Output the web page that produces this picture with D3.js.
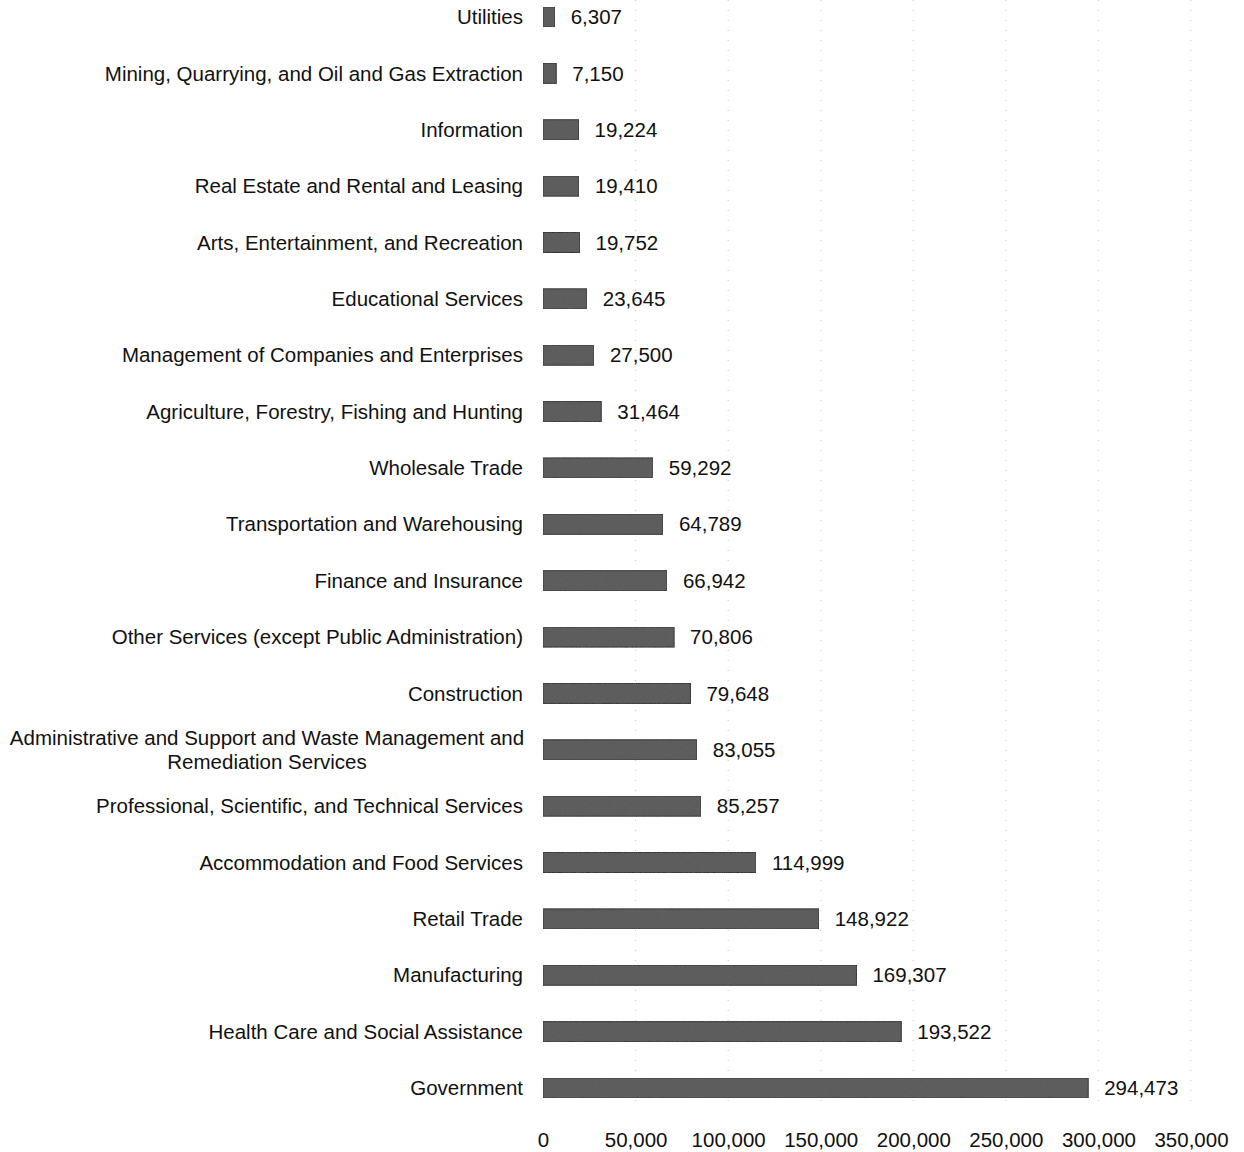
<!DOCTYPE html>
<html>
<head>
<meta charset="utf-8">
<script src="https://cdn.jsdelivr.net/npm/d3@7"></script>
<style>
  html, body { margin: 0; padding: 0; background: #fff; }
  svg { display: block; font-family: "Liberation Sans", Arial, sans-serif; }
</style>
</head>
<body>
<svg id="chart" width="1244" height="1152"></svg>
<script>
// Employment by industry
const industries = [
  "Utilities",
  "Mining, Quarrying, and Oil and Gas Extraction",
  "Information",
  "Real Estate and Rental and Leasing",
  "Arts, Entertainment, and Recreation",
  "Educational Services",
  "Management of Companies and Enterprises",
  "Agriculture, Forestry, Fishing and Hunting",
  "Wholesale Trade",
  "Transportation and Warehousing",
  "Finance and Insurance",
  "Other Services (except Public Administration)",
  "Construction",
  "Administrative and Support and Waste Management and|Remediation Services",
  "Professional, Scientific, and Technical Services",
  "Accommodation and Food Services",
  "Retail Trade",
  "Manufacturing",
  "Health Care and Social Assistance",
  "Government"
];
const employment = [
  6307, 7150, 19224, 19410, 19752, 23645, 27500, 31464, 59292, 64789,
  66942, 70806, 79648, 83055, 85257, 114999, 148922, 169307, 193522, 294473
];
const tickValues = [0, 50000, 100000, 150000, 200000, 250000, 300000, 350000];

const svg = d3.select("#chart");
const fmt = d3.format(",");
const fontSize = 20.5;

const x = d3.scaleLinear().domain([0, 350000]).range([543, 1191]);
const y = d3.scalePoint().domain(industries).range([17, 1088]);
const barH = 20;

// speckled texture for the bar fill
const defs = svg.append("defs");
const flt = defs.append("filter").attr("id", "grain")
  .attr("x", 0).attr("y", 0).attr("width", 1).attr("height", 1);
flt.append("feTurbulence").attr("type", "fractalNoise")
  .attr("baseFrequency", 1.2).attr("numOctaves", 1).attr("seed", 7).attr("result", "noise");
flt.append("feColorMatrix").attr("in", "noise").attr("type", "matrix")
  .attr("values", "0 0 0 0 0.1  0 0 0 0 0.1  0 0 0 0 0.1  2.2 0 0 0 -0.9").attr("result", "dots");
flt.append("feComposite").attr("in", "dots").attr("in2", "SourceGraphic")
  .attr("operator", "in").attr("result", "mixed");
flt.append("feMerge").call(m => {
  m.append("feMergeNode").attr("in", "SourceGraphic");
  m.append("feMergeNode").attr("in", "mixed");
});

// faint dotted gridlines
svg.append("g").selectAll("line")
  .data(tickValues.slice(1))
  .join("line")
  .attr("x1", d => x(d)).attr("x2", d => x(d))
  .attr("y1", 0).attr("y2", 1110)
  .attr("stroke", "#c8c8c8")
  .attr("stroke-width", 1)
  .attr("stroke-dasharray", "1,9");

// bars
svg.append("g").selectAll("rect")
  .data(employment)
  .join("rect")
  .attr("x", x(0))
  .attr("y", (d, i) => y(industries[i]) - barH / 2)
  .attr("width", d => x(d) - x(0))
  .attr("height", barH)
  .attr("fill", "#5e5e5e")
  .attr("stroke", "#333")
  .attr("stroke-width", 1)
  .attr("filter", "url(#grain)");

// value labels
svg.append("g").selectAll("text")
  .data(employment)
  .join("text")
  .attr("x", d => x(d) + 16)
  .attr("y", (d, i) => y(industries[i]))
  .attr("dy", "0.35em")
  .attr("font-size", fontSize)
  .attr("fill", "#111")
  .text(d => fmt(d));

// category labels
const labels = svg.append("g").selectAll("text")
  .data(industries)
  .join("text")
  .attr("font-size", fontSize)
  .attr("fill", "#111");

labels.each(function (d) {
  const t = d3.select(this);
  const lines = d.split("|");
  if (lines.length === 1) {
    t.attr("x", 523).attr("y", y(d)).attr("dy", "0.35em")
      .attr("text-anchor", "end").text(d);
  } else {
    t.attr("text-anchor", "middle");
    const cy = y(d);
    const lh = 24;
    lines.forEach((ln, k) => {
      t.append("tspan")
        .attr("x", 267)
        .attr("y", cy + (k - (lines.length - 1) / 2) * lh)
        .attr("dy", "0.35em")
        .text(ln);
    });
  }
});

// value axis
const axis = d3.axisBottom(x)
  .tickValues(tickValues)
  .tickFormat(fmt)
  .tickSize(0)
  .tickPadding(0);
const ag = svg.append("g").attr("transform", "translate(0,1130)").call(axis);
ag.select(".domain").remove();
ag.selectAll("text")
  .attr("font-size", fontSize)
  .attr("font-family", "'Liberation Sans', Arial, sans-serif")
  .attr("fill", "#111")
  .attr("dy", "0.35em")
  .attr("y", 10);
</script>
</body>
</html>
